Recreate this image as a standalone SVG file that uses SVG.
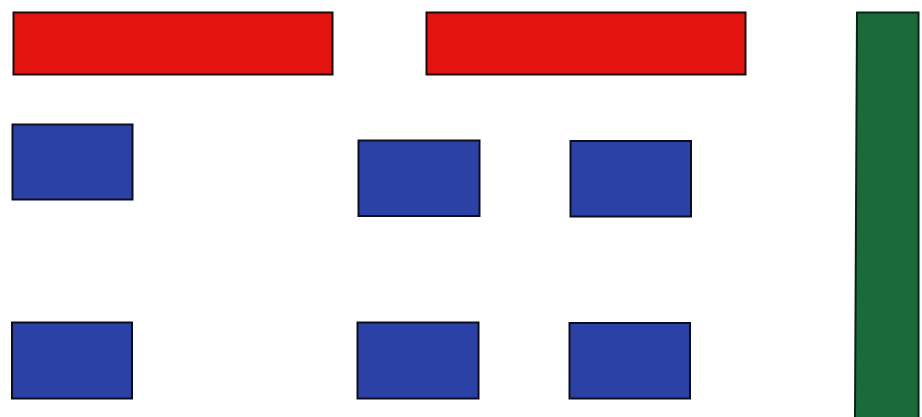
<svg xmlns="http://www.w3.org/2000/svg" width="922" height="417" viewBox="0 0 922 417">
<style>
.r{fill:#e3140f;stroke:#1a0a0a;stroke-width:2}
.b{fill:#2c41a6;stroke:#0c0e20;stroke-width:2}
.g{fill:#1b6a3c;stroke:#0c2014;stroke-width:2}
</style>
<rect width="922" height="417" fill="#ffffff"/>
<g id="red1"><rect class="r" x="13.5" y="12.5" width="319" height="62"/></g>
<g id="red2"><rect class="r" x="426.5" y="12.5" width="319" height="62"/></g>
<g id="green"><polygon class="g" points="857,12.5 918.5,12.5 918.5,418 855,418"/></g>
<g id="blue1"><rect class="b" x="12.5" y="124.5" width="120" height="75"/></g>
<g id="blue2"><rect class="b" x="358.5" y="140.5" width="121" height="75.5"/></g>
<g id="blue3"><rect class="b" x="570.5" y="141" width="120.5" height="75.5"/></g>
<g id="blue4"><rect class="b" x="12" y="322.5" width="120" height="76"/></g>
<g id="blue5"><rect class="b" x="357.5" y="322.5" width="121" height="76"/></g>
<g id="blue6"><rect class="b" x="569.5" y="323" width="120.5" height="75.5"/></g>
<g id="connectors"></g>
</svg>
